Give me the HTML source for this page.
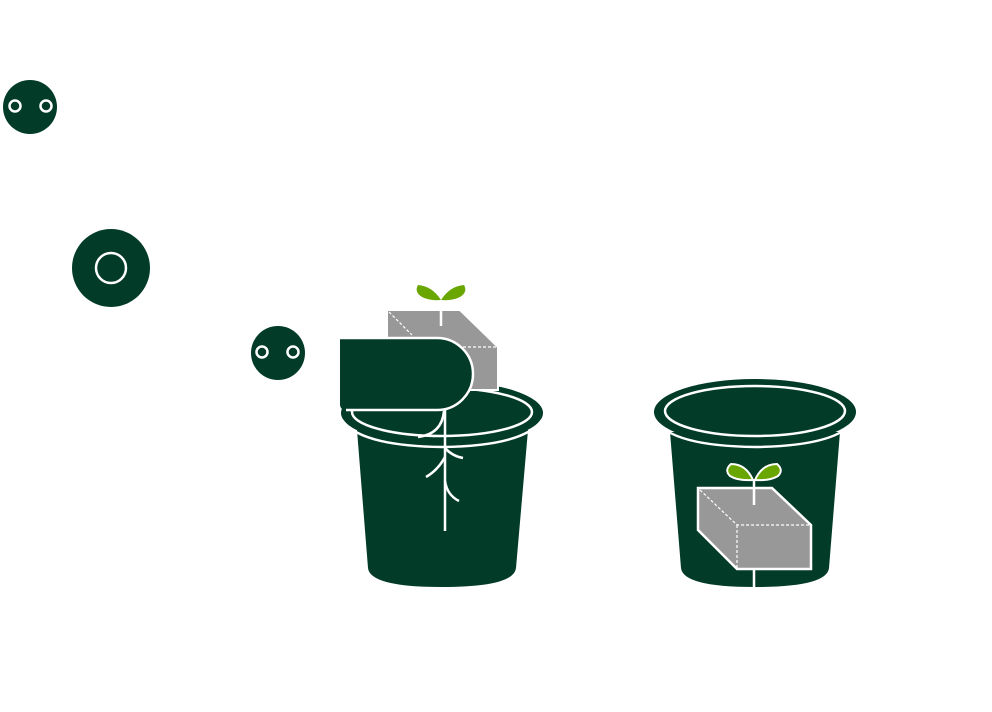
<!DOCTYPE html>
<html><head><meta charset="utf-8"><style>html,body{margin:0;padding:0;background:#fff}svg{display:block}</style></head>
<body>
<svg width="992" height="712" viewBox="0 0 992 712" xmlns="http://www.w3.org/2000/svg">
<g fill="#023b28">
<circle cx="30" cy="107" r="27"/>
<circle cx="111" cy="268" r="39"/>
<circle cx="278" cy="353" r="27"/>
</g>
<g fill="none" stroke="#fff" stroke-width="2.5">
<circle cx="15" cy="106" r="5.5"/><circle cx="46" cy="106" r="5.5"/>
<circle cx="111" cy="268" r="15"/>
<circle cx="262" cy="352" r="5.5"/><circle cx="293" cy="352" r="5.5"/>
</g>

<!-- left pot -->
<path d="M357 430 L368 568 Q370 587 442 587 Q514 587 516 568 L528 430 Z" fill="#023b28"/>
<ellipse cx="442" cy="413" rx="101" ry="32" fill="#023b28"/>
<path d="M342 420 Q360 446 442 447 Q524 446 542 420" fill="none" stroke="#fff" stroke-width="2.5"/>
<ellipse cx="442" cy="412" rx="90" ry="24" fill="none" stroke="#fff" stroke-width="2.5"/>
<!-- gray block -->
<path d="M387 310 L460 310 L498 347 L498 390 L387 390 Z" fill="#989898" stroke="#fff" stroke-width="2"/>
<path d="M389 312 L412 335 M463 347 L497 347" stroke="#fff" stroke-width="1.2" stroke-dasharray="3,2"/>
<!-- leaves -->
<path d="M441 300 Q432 286 418 285 Q414 292 422 297 Q430 301 441 300 Z" fill="#6aa600"/>
<path d="M441 300 Q450 286 464 285 Q468 292 460 297 Q452 301 441 300 Z" fill="#6aa600"/>
<line x1="441" y1="300" x2="441" y2="326" stroke="#fff" stroke-width="2.5"/>
<!-- dark tab -->
<path d="M340 338 L437 338 A36 36 0 0 1 437 410 L346 410 Q340 410 340 404 Z" fill="#023b28"/>
<path d="M340 338 L437 338 A36 36 0 0 1 437 410 L346 410" fill="none" stroke="#fff" stroke-width="2.5"/>
<!-- roots -->
<g fill="none" stroke="#fff" stroke-width="2.5">
<line x1="445" y1="410" x2="445" y2="531"/>
<path d="M444 411 Q442 434 418 437"/>
<path d="M445 448 Q452 456 463 458"/>
<path d="M445 457 Q438 470 426 477"/>
<path d="M445 481 Q447 495 459 501"/>
</g>

<!-- right pot -->
<path d="M670 432 L681 568 Q683 587 755 587 Q827 587 829 568 L840 432 Z" fill="#023b28"/>
<ellipse cx="755" cy="412" rx="101" ry="33" fill="#023b28"/>
<path d="M655 420 Q672 446 755 447 Q838 446 855 420" fill="none" stroke="#fff" stroke-width="2.5"/>
<ellipse cx="755" cy="411" rx="90" ry="25" fill="none" stroke="#fff" stroke-width="2.5"/>
<path d="M753 480 Q746 464 731 464 Q724 470 730 476 Q738 481 753 480 Z" fill="#6aa600" stroke="#fff" stroke-width="2"/>
<path d="M755 480 Q762 464 777 464 Q784 470 778 476 Q770 481 755 480 Z" fill="#6aa600" stroke="#fff" stroke-width="2"/>
<path d="M698 488 L772 488 L811 525 L811 569 L737 569 L698 530 Z" fill="#989898" stroke="#fff" stroke-width="2.5"/>
<path d="M700 490 L737 525 L810 525 M737 525 L737 568" fill="none" stroke="#fff" stroke-width="1.2" stroke-dasharray="3,2"/>
<line x1="754" y1="479" x2="754" y2="505" stroke="#fff" stroke-width="2.5"/>
<line x1="754" y1="569" x2="754" y2="588" stroke="#fff" stroke-width="2.5"/>
</svg>
</body></html>
